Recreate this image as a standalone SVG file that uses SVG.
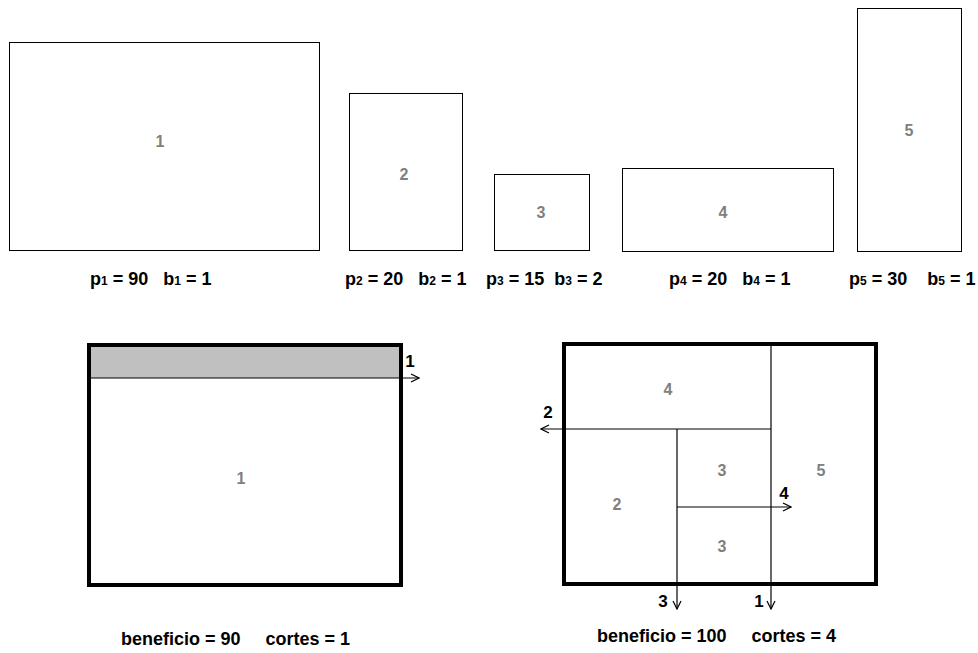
<svg xmlns="http://www.w3.org/2000/svg" width="978" height="653" viewBox="0 0 978 653">
<style>
.box{fill:#fff;stroke:#000;stroke-width:1}
.thick{fill:none;stroke:#000;stroke-width:4}
.lbl{font-family:"Liberation Sans",Arial,sans-serif;font-weight:bold;font-size:16px;fill:#808080;text-anchor:middle}
.t{font-family:"Liberation Sans",Arial,sans-serif;font-weight:bold;font-size:18px;fill:#000;white-space:pre}
.s{font-size:12px}
.cut{stroke:#000;stroke-width:1.2;fill:none}
.num{font-family:"Liberation Sans",Arial,sans-serif;font-weight:bold;font-size:17px;fill:#000;text-anchor:middle}
</style>
<defs>
<marker id="ah" viewBox="0 0 10 10" refX="9" refY="5" markerWidth="10" markerHeight="10" markerUnits="userSpaceOnUse" orient="auto">
<polyline points="1,1 9,5 1,9" fill="none" stroke="#000" stroke-width="1.2"/>
</marker>
</defs>
<rect width="978" height="653" fill="#fff"/>
<g id="item1"><rect class="box" x="9.5" y="42.5" width="310" height="208"/><text class="lbl" x="160" y="147">1</text></g>
<g id="item2"><rect class="box" x="349.5" y="93.5" width="113" height="157"/><text class="lbl" x="404" y="180">2</text></g>
<g id="item3"><rect class="box" x="494.5" y="174.5" width="95" height="76"/><text class="lbl" x="541" y="218">3</text></g>
<g id="item4"><rect class="box" x="622.5" y="168.5" width="211" height="83"/><text class="lbl" x="723" y="218">4</text></g>
<g id="item5"><rect class="box" x="857.5" y="8.5" width="104" height="243"/><text class="lbl" x="909" y="136">5</text></g>
<g id="captions">
<text class="t" x="90" y="285" xml:space="preserve">p<tspan class="s">1</tspan> = 90   b<tspan class="s">1</tspan> = 1</text>
<text class="t" x="345" y="285" xml:space="preserve">p<tspan class="s">2</tspan> = 20   b<tspan class="s">2</tspan> = 1</text>
<text class="t" x="486" y="285" xml:space="preserve">p<tspan class="s">3</tspan> = 15  b<tspan class="s">3</tspan> = 2</text>
<text class="t" x="669" y="285" xml:space="preserve">p<tspan class="s">4</tspan> = 20   b<tspan class="s">4</tspan> = 1</text>
<text class="t" x="849" y="285" xml:space="preserve">p<tspan class="s">5</tspan> = 30    b<tspan class="s">5</tspan> = 1</text>
</g>
<g id="solution1">
<rect x="88" y="344" width="314" height="34" fill="#c0c0c0"/>
<rect class="thick" x="89" y="345" width="312" height="240"/>
<text class="lbl" x="241" y="484">1</text>
<text class="t" x="121" y="645" xml:space="preserve">beneficio = 90     cortes = 1</text>
</g>
<g id="solution2">
<rect class="thick" x="564" y="344" width="312" height="240"/>
<text class="lbl" x="668" y="395">4</text>
<text class="lbl" x="722" y="476">3</text>
<text class="lbl" x="617" y="510">2</text>
<text class="lbl" x="722" y="552">3</text>
<text class="lbl" x="821" y="476">5</text>
<text class="t" x="597" y="642" xml:space="preserve">beneficio = 100     cortes = 4</text>
</g>
<g id="connectors">
<line class="cut" x1="88" y1="378" x2="419" y2="378" marker-end="url(#ah)"/>
<text class="num" x="410" y="367">1</text>
<line class="cut" x1="771" y1="344" x2="771" y2="609" marker-end="url(#ah)"/>
<text class="num" x="759" y="607">1</text>
<line class="cut" x1="771" y1="429" x2="541" y2="429" marker-end="url(#ah)"/>
<text class="num" x="548" y="418">2</text>
<line class="cut" x1="677" y1="429" x2="677" y2="609" marker-end="url(#ah)"/>
<text class="num" x="663" y="607">3</text>
<line class="cut" x1="677" y1="507" x2="791" y2="507" marker-end="url(#ah)"/>
<text class="num" x="784" y="499">4</text>
</g>
</svg>
